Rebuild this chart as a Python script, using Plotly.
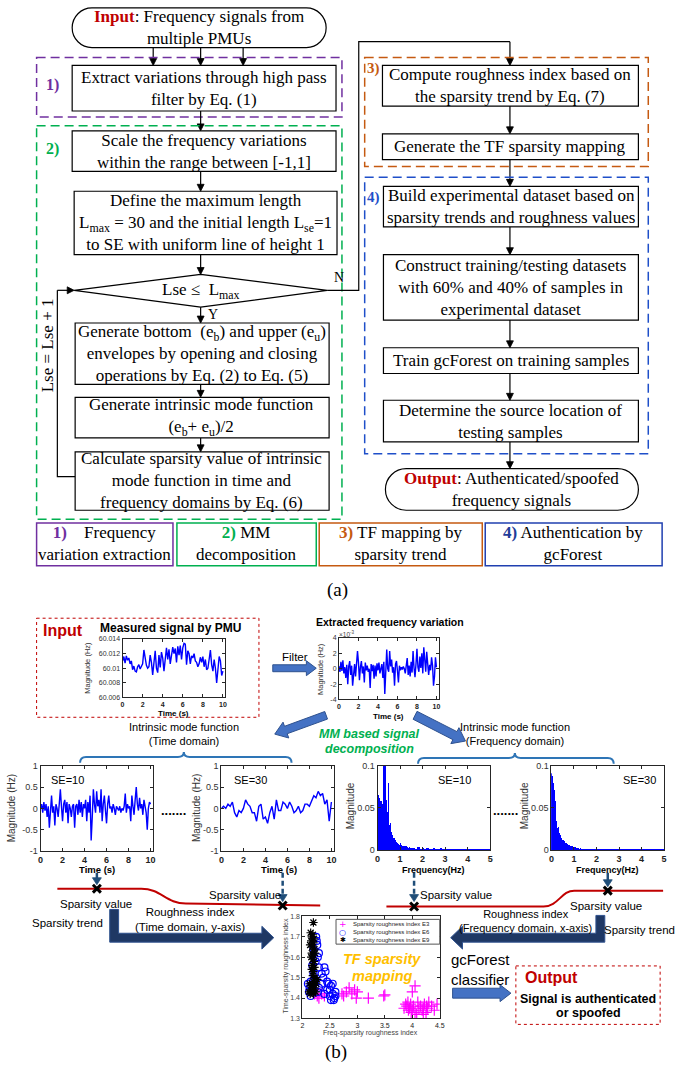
import numpy as np
import plotly.graph_objects as go

W, H = 677, 1070
SERIF = "Liberation Serif"
SANS = "Liberation Sans"

# ---------------- data ----------------
measured_hz = [60.0110, 60.0116, 60.0107, 60.0117, 60.0111, 60.0114, 60.0106, 60.0110, 60.0098, 60.0103,
               60.0096, 60.0095, 60.0102, 60.0105, 60.0099, 60.0103, 60.0106, 60.0125, 60.0114, 60.0104,
               60.0100, 60.0102, 60.0118, 60.0108, 60.0091, 60.0112, 60.0124, 60.0100, 60.0094, 60.0118,
               60.0101, 60.0122, 60.0114, 60.0096, 60.0110, 60.0128, 60.0112, 60.0126, 60.0106, 60.0118,
               60.0129, 60.0120, 60.0127, 60.0108, 60.0130, 60.0118, 60.0131, 60.0112, 60.0128, 60.0134,
               60.0133, 60.0105, 60.0124, 60.0120, 60.0106, 60.0117, 60.0114, 60.0120, 60.0110, 60.0108,
               60.0102, 60.0106, 60.0115, 60.0108, 60.0116, 60.0102, 60.0112, 60.0098, 60.0100, 60.0112,
               60.0125, 60.0105, 60.0096, 60.0112, 60.0100, 60.0080, 60.0098, 60.0116, 60.0110, 60.0090,
               60.0096]
variation_e3 = [0.3, -0.4, 0.9, -0.3, 1.1, -0.6, 0.2, -1.2, 0.5, -2.0, 0.3, 1.0, -0.8, 0.4, -2.2, -0.5, 0.6,
                -1.0, 0.2, 2.3, 0.8, -1.5, 0.2, 1.0, -0.6, 0.3, -1.8, 0.8, -0.2, 0.4, -0.4, 0.0, -2.5, 0.6,
                -0.3, 0.5, -1.3, 0.4, -1.0, 0.7, -0.2, 0.8, -0.6, 0.0, 0.6, -1.2, 0.9, -3.3, -0.5, 2.5, 0.0,
                -0.4, 2.3, 0.3, 1.2, -0.5, 0.2, -2.2, 0.6, 1.0, -0.3, -1.8, 0.4, -0.2, 0.2, -0.1, 0.3, 0.0,
                -0.6, 0.2, 1.4, -0.8, 0.4, -1.0, 0.9, -0.5, 2.3, 0.1, -1.1, 0.6, 2.6, 0.2, -0.4, 1.6, 0.1,
                2.0, -0.6, 2.8, 0.3, -0.4, 2.2, 0.4, -0.8, 0.5, -0.2, 1.5, 0.4, -2.2, -1.0, 1.5, 0.2]
imf_se10 = [0.0, 0.1, -0.1, 0.15, -0.05, 0.1, -0.2, 0.05, -0.45, 0.1, 0.3, -0.1, 0.05, -0.4, 0.1, 0.0, -0.2,
            0.1, 0.45, 0.05, -0.3, 0.1, 0.2, -0.1, 0.15, -0.35, 0.1, 0.0, -0.2, 0.05, 0.1, -0.45, 0.05, 0.1,
            -0.15, 0.2, -0.1, 0.15, -0.2, 0.1, 0.0, 0.2, -0.3, 0.15, -0.1, 0.3, -0.75, -0.2, 0.45, 0.1, -0.1,
            0.4, 0.05, 0.2, -0.1, 0.45, -0.3, 0.1, 0.3, -0.05, -0.35, 0.1, 0.3, 0.0, 0.05, -0.1, 0.1, 0.0,
            -0.15, 0.05, 0.0, -0.05, 0.05, -0.1, 0.0, -0.05, 0.05, 0.35, -0.1, 0.1, 0.0, 0.05, -0.3, 0.3,
            0.05, -0.15, 0.2, 0.5, 0.1, -0.05, 0.25, 0.0, 0.1, -0.15, 0.2, 0.05, -0.1, -0.5, 0.0, 0.15, 0.1]
imf_se30 = [0.0, 0.05, 0.0, 0.1, 0.05, 0.15, -0.1, -0.2, -0.05, -0.1, 0.0, 0.2, 0.1, 0.05, -0.1, -0.1, -0.3,
            0.05, 0.1, -0.25, -0.2, -0.35, -0.1, 0.05, -0.25, 0.2, -0.05, -0.05, 0.15, 0.1, 0.0, 0.15, 0.05,
            -0.1, -0.05, 0.05, -0.1, -0.05, 0.1, 0.1, 0.05, 0.2, 0.3, 0.25, 0.4, 0.3, 0.35, 0.1, 0.2, -0.3, 0.15]
spec_se10_low = [0.066, 0.064, 0.062, 0.060, 0.050, 0.058, 0.045, 0.040, 0.030, 0.055, 0.035, 0.100, 0.110,
                 0.095, 0.060, 0.040, 0.035, 0.025, 0.045, 0.080, 0.030, 0.020, 0.032, 0.015, 0.022, 0.012,
                 0.018, 0.010, 0.014, 0.008, 0.012, 0.006, 0.010, 0.005, 0.008, 0.004, 0.007, 0.004, 0.006,
                 0.003, 0.009, 0.004, 0.006, 0.003, 0.005, 0.003, 0.005, 0.002, 0.004, 0.003, 0.005, 0.002,
                 0.004, 0.002, 0.003, 0.002, 0.004, 0.002, 0.003, 0.002, 0.003]
spec_se10_high = [0.003, 0.002, 0.004, 0.002, 0.003, 0.002, 0.003, 0.002, 0.002, 0.003, 0.002, 0.002, 0.003,
                  0.002, 0.002, 0.001, 0.002, 0.002, 0.001, 0.002, 0.002, 0.001, 0.002, 0.002, 0.001, 0.002,
                  0.001, 0.002, 0.002, 0.001, 0.002, 0.001, 0.002, 0.001, 0.002]
spec_se30_low = [0.092, 0.090, 0.088, 0.085, 0.080, 0.072, 0.065, 0.058, 0.045, 0.035, 0.030, 0.026, 0.022,
                 0.028, 0.018, 0.020, 0.015, 0.018, 0.012, 0.015, 0.010, 0.012, 0.008, 0.011, 0.007, 0.009,
                 0.006, 0.008, 0.005, 0.007, 0.005, 0.006, 0.004, 0.006, 0.004, 0.005, 0.003, 0.005, 0.003,
                 0.004, 0.003, 0.004, 0.002, 0.004, 0.003, 0.003, 0.002, 0.003, 0.002, 0.003, 0.002, 0.002,
                 0.003, 0.002, 0.002, 0.001, 0.002, 0.002, 0.001, 0.002, 0.002]
spec_se30_high = [0.002, 0.002, 0.001, 0.002, 0.002, 0.001, 0.002, 0.001, 0.002, 0.001, 0.001, 0.002, 0.001,
                  0.001, 0.002, 0.001, 0.001, 0.001, 0.002, 0.001, 0.001, 0.001, 0.001, 0.002, 0.001, 0.001,
                  0.001, 0.001, 0.001, 0.001, 0.001, 0.001, 0.001, 0.001, 0.001]

e3_freq = [2.22, 2.27, 2.30, 2.35, 2.25, 2.40, 2.75, 2.80, 2.85, 2.90, 2.95, 3.00, 2.72, 2.98, 3.20, 3.48, 3.50,
           3.90, 3.92, 3.95, 3.97, 4.00, 4.00, 4.02, 4.05, 4.05, 4.10, 3.88, 3.93, 3.98, 4.15, 4.18, 4.20, 4.22,
           4.25, 4.28, 4.30, 4.35, 4.40, 4.45, 4.20, 4.12, 3.85, 4.08, 4.26]
e3_time = [1.42, 1.41, 1.40, 1.42, 1.44, 1.41, 1.41, 1.43, 1.45, 1.42, 1.44, 1.43, 1.42, 1.40, 1.40, 1.41, 1.415,
           1.36, 1.38, 1.35, 1.37, 1.34, 1.43, 1.36, 1.46, 1.33, 1.38, 1.37, 1.34, 1.33, 1.36, 1.34, 1.35, 1.37,
           1.33, 1.35, 1.38, 1.36, 1.34, 1.37, 1.32, 1.35, 1.35, 1.32, 1.36]
e6_freq = [2.10, 2.12, 2.15, 2.18, 2.20, 2.22, 2.25, 2.27, 2.28, 2.30, 2.20, 2.24, 2.30, 2.35, 2.38, 2.40, 2.42,
           2.45, 2.48, 2.50, 2.52, 2.55, 2.55, 2.58, 2.60, 2.57, 2.50, 2.45, 2.40, 2.35, 2.28, 2.15, 2.13, 2.18,
           2.60, 2.52, 2.30, 2.26]
e6_time = [1.47, 1.43, 1.41, 1.56, 1.52, 1.49, 1.70, 1.66, 1.60, 1.45, 1.64, 1.58, 1.55, 1.52, 1.50, 1.55, 1.53,
           1.48, 1.47, 1.44, 1.46, 1.42, 1.47, 1.40, 1.43, 1.39, 1.41, 1.44, 1.42, 1.47, 1.43, 1.48, 1.45, 1.44,
           1.41, 1.39, 1.62, 1.68]
e9_freq = [2.20, 2.15, 2.17, 2.19, 2.16, 2.20, 2.18, 2.22, 2.17, 2.20, 2.19, 2.21, 2.18, 2.22, 2.20, 2.19, 2.23,
           2.20, 2.25, 2.18, 2.15, 2.12, 2.14, 2.22, 2.24, 2.27, 2.16, 2.21, 2.14, 2.23, 2.17, 2.20, 2.13]
e9_time = [1.77, 1.72, 1.70, 1.71, 1.68, 1.67, 1.65, 1.64, 1.62, 1.61, 1.59, 1.58, 1.56, 1.55, 1.53, 1.51, 1.50,
           1.48, 1.47, 1.46, 1.44, 1.43, 1.42, 1.45, 1.43, 1.49, 1.60, 1.69, 1.66, 1.62, 1.54, 1.42, 1.47]
series_names = ["Sparsity roughness index E3", "Sparsity roughness index E6", "Sparsity roughness index E9"]

time_ticks = [0, 2, 4, 6, 8, 10]
freq_ticks = [0, 1, 2, 3, 4, 5]
meas_yticks = [60.006, 60.008, 60.01, 60.012, 60.014]
meas_ytext = ["60.006", "60.008", "60.01", "60.012", "60.014"]
var_yticks = [-4, -2, 0, 2, 4]
imf_yticks = [-1, -0.5, 0, 0.5, 1]
spec_yticks = [0, 0.05, 0.1]
map_xticks = [2, 2.5, 3, 3.5, 4, 4.5]
map_yticks = [1.3, 1.4, 1.5, 1.6, 1.7, 1.8]

# ---------------- helpers ----------------
fig = go.Figure()
shapes, annos = [], []
FS = 17  # flowchart font size


def rect(x0, y0, x1, y1, color="black", width=1.2, dash="solid", fill="rgba(0,0,0,0)"):
    shapes.append(dict(type="rect", xref="x", yref="y", x0=x0, y0=y0, x1=x1, y1=y1,
                       line=dict(color=color, width=width, dash=dash), fillcolor=fill))


def path(d, color="black", width=1.2, dash="solid", fill=None):
    s = dict(type="path", xref="x", yref="y", path=d, line=dict(color=color, width=width, dash=dash))
    if fill:
        s["fillcolor"] = fill
    shapes.append(s)


def poly(pts, close=False, **kw):
    path("M" + " L".join(f"{x:.1f},{y:.1f}" for x, y in pts) + (" Z" if close else ""), **kw)


def txt(x, y, t, size=FS, color="black", font=SERIF, xanchor="center", angle=0, align="center"):
    annos.append(dict(xref="x", yref="y", x=x, y=y, text=t, showarrow=False, xanchor=xanchor, yanchor="middle",
                      font=dict(family=font, size=size, color=color), textangle=angle, align=align))


def arrow(x0, y0, x1, y1, color="black", width=1.2, hl=7, hw=3.5, dash="solid"):
    p0, p1 = np.array([x0, y0], float), np.array([x1, y1], float)
    u = (p1 - p0) / np.hypot(*(p1 - p0))
    n = np.array([-u[1], u[0]])
    b = p1 - u * hl
    poly([p0, b + u * 1.0], color=color, width=width, dash=dash)
    poly([b + n * hw, p1, b - n * hw], close=True, color=color, width=0.8, fill=color)


def stadium(x0, y0, x1, y1):
    r = (y1 - y0) / 2
    ym = (y0 + y1) / 2
    k = 0.5523 * r
    d = (f"M{x0+r},{y0} L{x1-r},{y0} C{x1-r+k},{y0} {x1},{ym-k} {x1},{ym} "
         f"C{x1},{ym+k} {x1-r+k},{y1} {x1-r},{y1} L{x0+r},{y1} "
         f"C{x0+r-k},{y1} {x0},{ym+k} {x0},{ym} C{x0},{ym-k} {x0+r-k},{y0} {x0+r},{y0} Z")
    path(d, width=1.2)


def block_arrow(x0, y0, x1, y1, bw, hw, hl, fill="#4472C4", edge="#2F528F"):
    p0, p1 = np.array([x0, y0], float), np.array([x1, y1], float)
    u = (p1 - p0) / np.hypot(*(p1 - p0))
    n = np.array([-u[1], u[0]])
    b = p1 - u * hl
    pts = [p0 + n * bw / 2, b + n * bw / 2, b + n * hw / 2, p1, b - n * hw / 2, b - n * bw / 2, p0 - n * bw / 2]
    poly(pts, close=True, color=edge, width=1, fill=fill)


def xmark(x, y, s=4):
    poly([(x - s, y - s), (x + s, y + s)], width=3)
    poly([(x - s, y + s), (x + s, y - s)], width=3)


# ---------------- part (a) flowchart ----------------
RED = "#C00000"
PURPLE, GREEN, ORANGE, BLUE = "#7030A0", "#00B050", "#C55A11", "#1F4FC9"
DASH = "9px,5px"

stadium(70, 3, 327, 43)
txt(198, 23, f'<b><span style="color:{RED}">Input</span></b>: Frequency signals from<br>multiple PMUs')
for ax_ in (152, 200, 243):
    arrow(ax_, 43, ax_, 61)

rect(34, 53, 343, 113, PURPLE, 1.5, DASH)
txt(50, 81, "<b>1)</b>", color=PURPLE, size=16)
rect(70, 61, 337, 107)
txt(203, 84, "Extract variations through high pass<br>filter by Eq. (1)")
arrow(200, 107, 200, 127)

rect(34, 122, 343, 519, GREEN, 1.5, DASH)
txt(50, 145, "<b>2)</b>", color=GREEN, size=16)
rect(70, 127, 337, 168)
txt(203, 148, "Scale the frequency variations<br>within the range between [-1,1]")
arrow(200, 168, 200, 188)
rect(72, 188, 338, 252)
txt(205, 220, "Define the maximum length<br>L<sub>max</sub> = 30 and the initial length L<sub>se</sub>=1"
              "<br>to SE with uniform line of height 1")
arrow(200, 252, 200, 272)
poly([(200, 272), (328, 288), (200, 305), (72, 288)], close=True)
txt(200, 289, "Lse ≤  L<sub>max</sub>")
txt(340, 275, "N", size=14)
txt(213, 312, "Y", size=14)
arrow(200, 305, 200, 321)
rect(73, 321, 330, 383)
txt(201, 352, "Generate bottom  (e<sub>b</sub>) and upper (e<sub>u</sub>)<br>envelopes by opening and closing"
              "<br>operations by Eq. (2) to Eq. (5)")
arrow(200, 383, 200, 396)
rect(73, 396, 330, 437)
txt(201, 416, "Generate intrinsic mode function<br>(e<sub>b</sub>+ e<sub>u</sub>)/2")
arrow(200, 437, 200, 451)
rect(73, 451, 330, 510)
txt(201, 480, "Calculate sparsity value of intrinsic<br>mode function in time and<br>frequency domains by Eq. (6)")
poly([(73, 476), (55, 476), (55, 288)])
arrow(55, 288, 72, 288)
txt(45, 343, "Lse = Lse + 1", angle=-90)
poly([(328, 288), (360, 288), (360, 37), (513, 37)])
arrow(513, 37, 513, 61)

rect(366, 53, 653, 163, ORANGE, 1.5, DASH)
txt(375, 64, "<b>3)</b>", color=ORANGE, size=15)
rect(384, 61, 643, 102)
txt(513, 81, "Compute roughness index based on<br>the sparsity trend by Eq. (7)")
arrow(513, 102, 513, 130)
rect(384, 130, 643, 156)
txt(513, 143, "Generate the TF sparsity mapping")
arrow(513, 156, 513, 183)

rect(366, 174, 653, 453, BLUE, 1.5, DASH)
txt(375, 194, "<b>4)</b>", color=BLUE, size=15)
rect(385, 183, 643, 224)
txt(514, 203, "Build experimental dataset based on<br>sparsity trends and roughness values")
arrow(513, 224, 513, 252)
rect(385, 252, 643, 318)
txt(514, 285, "Construct training/testing datasets<br>with 60% and 40% of samples in<br>experimental dataset")
arrow(513, 318, 513, 346)
rect(385, 346, 643, 372)
txt(514, 359, "Train gcForest on training samples")
arrow(513, 372, 513, 399)
rect(385, 399, 643, 441)
txt(514, 420, "Determine the source location of<br>testing samples")
arrow(513, 441, 513, 468)
stadium(387, 468, 643, 510)
txt(515, 489, f'<b><span style="color:{RED}">Output</span></b>: Authenticated/spoofed<br>frequency signals')

rect(34, 523, 172, 566, PURPLE, 1.5)
txt(103, 544, f'<b><span style="color:{PURPLE}">1)</span></b>&nbsp;&nbsp;&nbsp; Frequency<br>variation extraction')
rect(176, 523, 317, 566, GREEN, 1.5)
txt(246, 544, f'<b><span style="color:{GREEN}">2)</span></b> MM<br>decomposition')
rect(320, 523, 485, 566, ORANGE, 1.5)
txt(402, 544, f'<b><span style="color:{ORANGE}">3)</span></b> TF mapping by<br>sparsity trend')
rect(488, 523, 667, 566, "#2040B0", 1.5)
txt(577, 544, '<b><span style="color:#1F3D99">4)</span></b> Authentication by<br>gcForest')
txt(338, 591, "(a)", size=19)

# ---------------- part (b) ----------------
rect(34, 619, 259, 719, "#C00000", 1, "dot")
txt(61, 631, "<b>Input</b>", size=16, color=RED, font=SANS)
txt(170, 629, "<b>Measured signal by PMU</b>", size=12, font=SANS)
txt(392, 623, "<b>Extracted frequency variation</b>", size=10.5, font=SANS)
txt(295, 658, "Filter", size=11.5, font=SANS)
block_arrow(273, 669.5, 317, 669.5, 7, 15, 10)
block_arrow(327, 717, 275, 736, 8, 17, 12)
block_arrow(417, 717, 468, 743, 9, 18, 12)
txt(371, 736, "<b><i>MM based signal</i></b>", size=12.5, color=GREEN, font=SANS)
txt(371, 751, "<b><i>decomposition</i></b>", size=12.5, color=GREEN, font=SANS)
txt(183, 736, "Intrinsic mode function<br>(Time domain)", size=11, font=SANS)
txt(518, 736, "Intrinsic mode function<br>(Frequency domain)", size=11, font=SANS)
path("M78,765 Q78,759 84,759 L177,759 Q183,759 183,754 Q183,759 189,759 L286,759 Q292,759 292,765",
     color="#2E75B6", width=2)
path("M420,766 Q420,760 426,760 L512,760 Q518,760 518,755 Q518,760 524,760 L612,760 Q618,760 618,766",
     color="#2E75B6", width=2)
txt(173, 813, "<b>.......</b>", size=13, font=SANS)
txt(508, 813, "<b>.......</b>", size=13, font=SANS)
txt(65, 782, "SE=10", size=11, font=SANS)
txt(250, 782, "SE=30", size=11, font=SANS)
txt(457, 782, "SE=10", size=11, font=SANS)
txt(644, 782, "SE=30", size=11, font=SANS)

# sparsity trends
CRV = "#C00000"
path("M55,892 L140,892 C160,892 165,907 185,907 L321,909", color=CRV, width=2)
path("M388,910 L547,910 C562,910 565,894 578,894 L668,894", color=CRV, width=2)
xmark(95, 892)
xmark(283, 909)
xmark(416, 910)
xmark(612, 894)
DB = "#1F4E79"
arrow(95, 876, 95, 888, color=DB, width=2.5, hl=7, hw=4.5)
arrow(283, 876, 283, 905, color=DB, width=2.5, hl=7, hw=4.5, dash="5px,3px")
arrow(416, 876, 416, 905, color=DB, width=2.5, hl=7, hw=4.5, dash="5px,3px")
arrow(612, 876, 612, 890, color=DB, width=2.5, hl=7, hw=4.5)
txt(94, 907, "Sparsity value", size=11.5, font=SANS)
txt(245, 898, "Sparsity value", size=11.5, font=SANS)
txt(458, 898, "Sparsity value", size=11.5, font=SANS)
txt(610, 909, "Sparsity value", size=11.5, font=SANS)
txt(65, 927, "Sparsity trend", size=11.5, font=SANS)
txt(644, 934, "Sparsity trend", size=11.5, font=SANS)
txt(189, 923, "Roughness index<br>(Time domain, y-axis)", size=11.5, font=SANS)
txt(529, 925, "Roughness index<br>(Frequency domain, x-axis)", size=11, font=SANS)
NAVY = "#1F3864"
poly([(108, 913), (117, 913), (117, 937), (262, 937), (262, 930), (274, 941.5), (262, 953), (262, 946),
      (108, 946)], close=True, color="#2F528F", width=1, fill=NAVY)
poly([(609, 919), (600, 919), (600, 937), (465, 937), (465, 930), (453, 941.5), (465, 953), (465, 946),
      (609, 946)], close=True, color="#2F528F", width=1, fill=NAVY)
txt(483, 974, "gcForest<br>classifier", size=15, font=SANS, align="left")
block_arrow(455, 997.5, 514, 997.5, 10, 17, 11)
rect(519, 970, 665, 1029, "#C00000", 1, "dot")
txt(555, 982, "<b>Output</b>", size=16, color=RED, font=SANS)
txt(592, 1003, "<b>Signal is authenticated</b>", size=12.5, font=SANS)
txt(592, 1018, "<b>or spoofed</b>", size=12.5, font=SANS)
txt(384, 963, "<b><i>TF sparsity</i></b>", size=14.5, color="#FFC000", font=SANS)
txt(384, 980, "<b><i>mapping</i></b>", size=14.5, color="#FFC000", font=SANS)
txt(337, 1057, "(b)", size=19)

# axis titles
txt(86, 669, "Magnitude (Hz)", size=7.5, color="#333", font=SANS, angle=-90)
txt(173, 715, "<b>Time (s)</b>", size=8, font=SANS)
txt(322, 670, "Magnitude (Hz)", size=7.5, color="#333", font=SANS, angle=-90)
txt(390, 718, "<b>Time (s)</b>", size=8, font=SANS)
txt(348, 635, "×10<sup>-3</sup>", size=6.5, color="#444", font=SANS)
txt(9, 811, "Magnitude (Hz)", size=10, color="#333", font=SANS, angle=-90)
txt(95, 873, "<b>Time (s)</b>", size=9.5, font=SANS)
txt(196, 811, "Magnitude (Hz)", size=10, color="#333", font=SANS, angle=-90)
txt(279, 873, "<b>Time (s)</b>", size=9.5, font=SANS)
txt(352, 808, "Magnitude", size=10, color="#333", font=SANS, angle=-90)
txt(436, 873, "<b>Frequency(Hz)</b>", size=9, font=SANS)
txt(528, 808, "Magnitude", size=10, color="#333", font=SANS, angle=-90)
txt(612, 873, "<b>Frequency(Hz)</b>", size=9, font=SANS)
txt(286, 970, "Time-sparsity roughness index", size=7, color="#444", font=SANS, angle=-90)
txt(372, 1038, "Freq-sparsity roughness index", size=7, color="#444", font=SANS)

# ---------------- embedded plots ----------------
AX = "#262626"


def add_axes(i, box, xr, yr, xtv, ytv, ytt=None, fs=9, xbold=True, ycol="#333"):
    x0, y0, x1, y1 = box
    xtt = [f"<b>{v:g}</b>" if xbold else f"{v:g}" for v in xtv]
    if ytt is None:
        ytt = [f"{v:g}" for v in ytv]
    common = dict(showline=True, mirror="ticks", linecolor=AX, linewidth=1, ticks="inside", ticklen=3,
                  tickcolor=AX, showgrid=False, zeroline=False, fixedrange=True)
    fig.update_layout(**{
        f"xaxis{i}": dict(domain=[x0 / W, x1 / W], range=xr, anchor=f"y{i}", tickvals=xtv, ticktext=xtt,
                          tickfont=dict(family=SANS, size=fs, color="#222"), **common),
        f"yaxis{i}": dict(domain=[1 - y1 / H, 1 - y0 / H], range=yr, anchor=f"x{i}", tickvals=ytv, ticktext=ytt,
                          tickfont=dict(family=SANS, size=fs, color=ycol), **common),
    })


LINE = dict(color="#0000FF", width=1.4)

add_axes(2, (121, 640, 225, 699), [0, 10.24], [60.006, 60.014], time_ticks, meas_yticks, meas_ytext, fs=7)
fig.add_trace(go.Scatter(x=np.linspace(0, 10, len(measured_hz)), y=measured_hz, mode="lines", line=LINE,
                         xaxis="x2", yaxis="y2", showlegend=False, hoverinfo="skip"))

add_axes(3, (340, 639, 441, 701), [0, 10.24], [-4, 4], time_ticks, var_yticks, fs=7)
fig.add_trace(go.Scatter(x=np.linspace(0, 10, len(variation_e3)), y=variation_e3, mode="lines", line=LINE,
                         xaxis="x3", yaxis="y3", showlegend=False, hoverinfo="skip"))

add_axes(4, (38, 768, 152, 854), [0, 10.24], [-1, 1], time_ticks, imf_yticks)
fig.add_trace(go.Scatter(x=np.linspace(0, 10, len(imf_se10)), y=imf_se10, mode="lines", line=LINE,
                         xaxis="x4", yaxis="y4", showlegend=False, hoverinfo="skip"))

add_axes(5, (221, 768, 335, 854), [0, 10.24], [-1, 1], time_ticks, imf_yticks)
fig.add_trace(go.Scatter(x=np.linspace(0, 10, len(imf_se30)), y=imf_se30, mode="lines", line=LINE,
                         xaxis="x5", yaxis="y5", showlegend=False, hoverinfo="skip"))

for i, box, lo, hi in [(6, (379, 768, 493, 853), spec_se10_low, spec_se10_high),
                       (7, (555, 768, 669, 853), spec_se30_low, spec_se30_high)]:
    add_axes(i, box, [0, 5], [0, 0.1], freq_ticks, spec_yticks)
    f_lo = np.linspace(0, 1.5, len(lo))
    f_hi = np.linspace(1.6, 5.0, len(hi))
    fig.add_trace(go.Bar(x=np.concatenate([f_lo, f_hi]), y=list(lo) + list(hi),
                         width=[0.022] * len(lo) + [0.1] * len(hi),
                         marker=dict(color="#0000FF", line=dict(width=0)),
                         xaxis=f"x{i}", yaxis=f"y{i}", showlegend=False, hoverinfo="skip"))

add_axes(8, (303, 920, 442, 1023), [2, 4.5], [1.3, 1.8], map_xticks, map_yticks, fs=7, xbold=False, ycol="#444")
MAP_COLORS = ["#FF00FF", "#0000FF", "#000000"]
MAP_SYMBOLS = ["cross-thin-open", "circle-open", "asterisk-open"]
MAP_SIZES = [8, 7, 7]
for (xs, ys), name, col, sym, sz in zip([(e3_freq, e3_time), (e6_freq, e6_time), (e9_freq, e9_time)],
                                        series_names, MAP_COLORS, MAP_SYMBOLS, MAP_SIZES):
    fig.add_trace(go.Scatter(x=xs, y=ys, mode="markers", name=name, showlegend=False,
                             marker=dict(symbol=sym, size=sz, color=col, line=dict(color=col, width=1.2)),
                             xaxis="x8", yaxis="y8", hoverinfo="skip"))

# compact legend for the mapping plot (drawn by hand, like the original)
rect(337, 923, 442, 948, "#555", 1, fill="white")
for k, (name, col, glyph, gs) in enumerate(zip(series_names, MAP_COLORS, ["+", "○", "✱"], [9, 8, 7])):
    yk = 927.5 + 8.3 * k
    annos.append(dict(xref="x", yref="y", x=344, y=yk, text=glyph, showarrow=False, borderpad=0,
                      font=dict(family="DejaVu Sans", size=gs, color=col)))
    txt(352, yk, name, size=6, color="#222", font=SANS, xanchor="left")

fig.update_layout(
    width=W, height=H, margin=dict(l=0, r=0, t=0, b=0),
    paper_bgcolor="white", plot_bgcolor="rgba(0,0,0,0)",
    xaxis=dict(domain=[0, 1], range=[0, W], visible=False, fixedrange=True),
    yaxis=dict(domain=[0, 1], range=[H, 0], visible=False, fixedrange=True),
    shapes=shapes, annotations=annos, bargap=0, showlegend=False,
)
fig.write_html("out.html")
